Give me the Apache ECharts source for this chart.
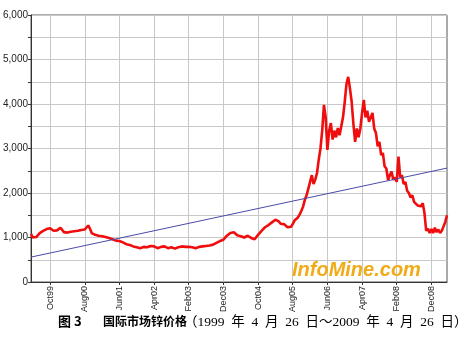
<!DOCTYPE html>
<html>
<head>
<meta charset="utf-8">
<script src="https://cdn.jsdelivr.net/npm/echarts@6/dist/echarts.min.js"></script>
<style>
html,body{margin:0;padding:0;background:#fff;}
#chart{width:459px;height:341px;}
</style>
</head>
<body>
<div id="chart"></div>
<script>
// Half-month sampling, index 0 = 1999-04-26, last index = 2009-04 (2nd half)
const tickLabels = ['Oct99','Aug00','Jun01','Apr02','Feb03','Dec03','Oct04','Aug05','Jun06','Apr07','Feb08','Dec08'];
const firstTickIndex = 11;   // Oct 1999 (1st half)
const tickStep = 20;         // 10 months

const price1999 = [1080, 1000, 970, 1010, 1050, 1100, 1130, 1150, 1170, 1190, 1160, 1210, 1180, 1150, 1170, 1160, 1200];
const price2000 = [1220, 1180, 1120, 1090, 1110, 1150, 1130, 1170, 1140, 1120, 1150, 1130, 1170, 1150, 1180, 1220, 1270, 1200, 1100, 1080, 1060, 1050, 1040, 1060];
const price2001 = [1030, 1020, 1010, 990, 990, 960, 960, 950, 930, 910, 920, 900, 890, 870, 850, 840, 830, 810, 800, 790, 780, 770, 760, 790];
const price2002 = [790, 800, 780, 790, 810, 820, 800, 780, 760, 770, 790, 780, 800, 770, 760, 770, 780, 770, 750, 760, 780, 790, 800, 780];
const price2003 = [790, 780, 790, 800, 780, 770, 760, 770, 790, 780, 800, 790, 810, 830, 820, 850, 840, 830, 880, 900, 920, 900, 950, 970];
const price2004 = [1040, 1070, 1100, 1130, 1120, 1080, 1050, 1020, 1030, 1010, 1000, 1020, 1040, 1010, 990, 970, 960, 1010, 1060, 1100, 1150, 1180, 1230, 1260];
const price2005 = [1280, 1320, 1340, 1380, 1400, 1430, 1360, 1310, 1280, 1300, 1270, 1230, 1210, 1240, 1300, 1380, 1420, 1450, 1520, 1600, 1700, 1850, 1950, 2100];
const price2006 = [2250, 2400, 2200, 2300, 2450, 2750, 3000, 3400, 3980, 3700, 2970, 3400, 3570, 3200, 3400, 3250, 3460, 3300, 3500, 3700, 4050, 4450, 4610, 4350];
const price2007 = [4050, 3550, 3150, 3450, 3250, 3450, 3800, 4090, 3700, 3850, 3600, 3700, 3800, 3450, 3350, 3050, 3150, 2850, 2900, 2600, 2550, 2290, 2400, 2480];
const price2008 = [2300, 2350, 2250, 2820, 2350, 2400, 2200, 2250, 2050, 2000, 1900, 1950, 1800, 1820, 1720, 1740, 1700, 1770, 1550, 1150, 1200, 1100, 1190, 1100];
const price2009 = [1220, 1120, 1180, 1100, 1150, 1250, 1350, 1500];

const trendStart = 560;
const trendEnd = 2560;

const prices = [].concat(price1999, price2000, price2001, price2002, price2003, price2004, price2005, price2006, price2007, price2008, price2009);

// categories (half-month dates)
const categories = ['1999-04-26'];
for (let k = 1; k <= 120; k++) {
  const m = 3 + k; // months since Jan 1999 (0-based)
  const y = 1999 + Math.floor(m / 12);
  const mm = String(m % 12 + 1).padStart(2, '0');
  categories.push(y + '-' + mm + '-01', y + '-' + mm + '-16');
}

const trend = prices.map((v, i) => i === 0 ? trendStart : (i === prices.length - 1 ? trendEnd : null));

const isTick = (i) => i >= firstTickIndex && (i - firstTickIndex) % tickStep === 0;

const chart = echarts.init(document.getElementById('chart'), null, {renderer: 'canvas'});
chart.setOption({
  animation: false,
  backgroundColor: '#fff',
  grid: {left: 27, right: 12, top: 15, bottom: 59, show: true, borderColor: '#555', borderWidth: 1, containLabel: false},
  xAxis: {
    type: 'category',
    data: categories,
    boundaryGap: false,
    axisLine: {lineStyle: {color: '#333', width: 1}},
    axisTick: {show: true, length: 3, interval: (i) => isTick(i), lineStyle: {color: '#333'}},
    splitLine: {show: true, interval: (i) => isTick(i), lineStyle: {color: '#c8c8c8', width: 1}},
    axisLabel: {
      interval: (i) => isTick(i),
      rotate: 90,
      margin: 4,
      fontSize: 9,
      fontFamily: 'Liberation Sans',
      color: '#222',
      formatter: (v, i) => tickLabels[(i - firstTickIndex) / tickStep]
    }
  },
  yAxis: {
    type: 'value',
    min: 0, max: 6000, interval: 500,
    axisLine: {show: true, lineStyle: {color: '#333'}},
    axisTick: {show: true, length: 3, lineStyle: {color: '#333'}},
    splitLine: {show: true, lineStyle: {color: '#c8c8c8', width: 1}},
    axisLabel: {
      margin: 3,
      fontSize: 10,
      fontFamily: 'Liberation Sans',
      color: '#222',
      formatter: (v) => v % 1000 === 0 ? v.toLocaleString('en-US') : ''
    }
  },
  series: [
    {type: 'line', data: prices, symbol: 'none', lineStyle: {color: '#f00d0d', width: 2.6}, z: 3},
    {type: 'line', data: trend, connectNulls: true, symbol: 'none', lineStyle: {color: '#4a4aa8', width: 1}, z: 4}
  ],
  graphic: [
    {type: 'text', x: 292, y: 270, z: 10, style: {text: 'InfoMine.com', fontFamily: 'Liberation Sans', fontSize: 20, fontWeight: 'bold', fontStyle: 'italic', fill: '#f0ac18', textVerticalAlign: 'middle', textShadowColor: 'rgba(170,110,0,0.6)', textShadowOffsetX: 1, textShadowOffsetY: 1}},
    {type: 'text', x: 58, y: 321, style: {text: '图 3', fontFamily: 'Noto Sans CJK SC', fontSize: 13, fontWeight: 'bold', fill: '#000', textVerticalAlign: 'middle'}},
    {type: 'text', x: 103, y: 321, style: {text: '国际市场锌价格', fontFamily: 'Noto Sans CJK SC', fontSize: 12, fontWeight: 'bold', fill: '#000', textVerticalAlign: 'middle'}},
    {type: 'text', x: 184, y: 322, style: {text: '（1999\u2002年\u20024\u2002月\u200226\u2002日～2009\u2002年\u20024\u2002月\u200226\u2002日）', fontFamily: 'Liberation Serif, Noto Sans CJK SC', fontSize: 13.5, fill: '#000', textVerticalAlign: 'middle'}}
  ]
});
</script>
</body>
</html>
